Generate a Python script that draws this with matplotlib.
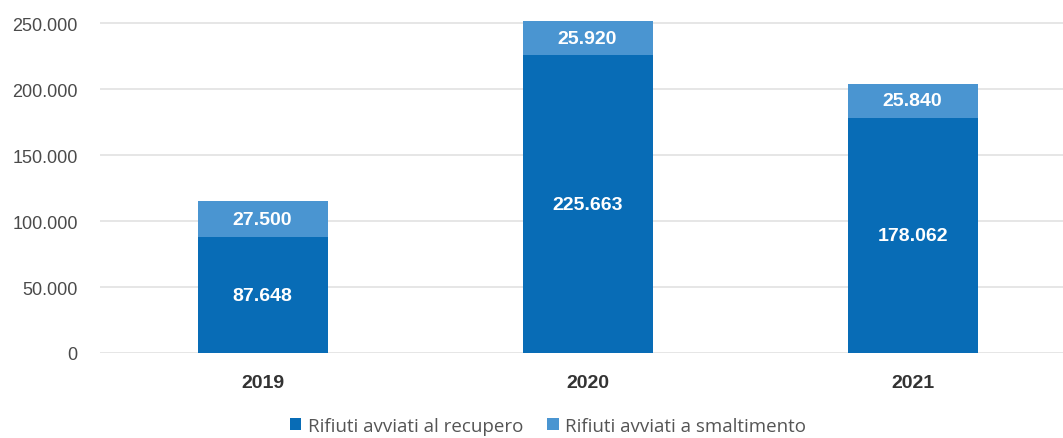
import matplotlib

matplotlib.use("Agg")
import matplotlib.pyplot as plt  # noqa: E402
from matplotlib.ticker import FuncFormatter  # noqa: E402

years = ["2019", "2020", "2021"]
recupero = [87648, 225663, 178062]
smaltimento = [27500, 25920, 25840]
yticks = [0, 50000, 100000, 150000, 200000, 250000]

DARK = "#086cb6"
LIGHT = "#4a95d1"


def fmt(v):
    return f"{v:,.0f}".replace(",", ".")


fig = plt.figure(figsize=(10.63, 4.39), dpi=100)
ax = fig.add_axes([100 / 1063, 85 / 439, 975 / 1063, 345.8 / 439])

x = range(len(years))
ax.bar(x, recupero, width=0.4, color=DARK, label="Rifiuti avviati al recupero", zorder=3)
ax.bar(x, smaltimento, width=0.4, bottom=recupero, color=LIGHT,
       label="Rifiuti avviati a smaltimento", zorder=3)

for i in x:
    ax.text(i, recupero[i] / 2, fmt(recupero[i]), ha="center", va="center",
            color="white", fontsize=14, fontweight="bold", family="Liberation Sans", zorder=4)
    ax.text(i, recupero[i] + smaltimento[i] / 2, fmt(smaltimento[i]), ha="center",
            va="center", color="white", fontsize=14, fontweight="bold",
            family="Liberation Sans", zorder=4)

ax.set_xlim(-0.5, 2.5)
ax.set_ylim(0, 262000)
ax.set_yticks(yticks)
ax.yaxis.set_major_formatter(FuncFormatter(lambda v, _: fmt(v)))
ax.grid(axis="y", color="#e2e2e2", linewidth=1.2, zorder=0)
ax.set_xticks(list(x))
ax.set_xticklabels(years, fontsize=14, fontweight="bold", color="#333333",
                   family="Liberation Sans")
for lab in ax.get_yticklabels():
    lab.set_family("Liberation Sans")
    lab.set_fontsize(13)
    lab.set_color("#4a4a4a")
ax.tick_params(axis="both", length=0)
ax.tick_params(axis="y", pad=16)
ax.tick_params(axis="x", pad=15)
for s in ax.spines.values():
    s.set_visible(False)

leg = fig.legend(loc="center", bbox_to_anchor=(548 / 1063, 1 - 427 / 439), ncol=2,
                 frameon=False, handlelength=0.6, handleheight=0.6, handletextpad=0.35,
                 columnspacing=1.3, prop={"family": "Open Sans", "size": 13.5})
for t in leg.get_texts():
    t.set_color("#555555")

fig.savefig("out.png", dpi=100)
